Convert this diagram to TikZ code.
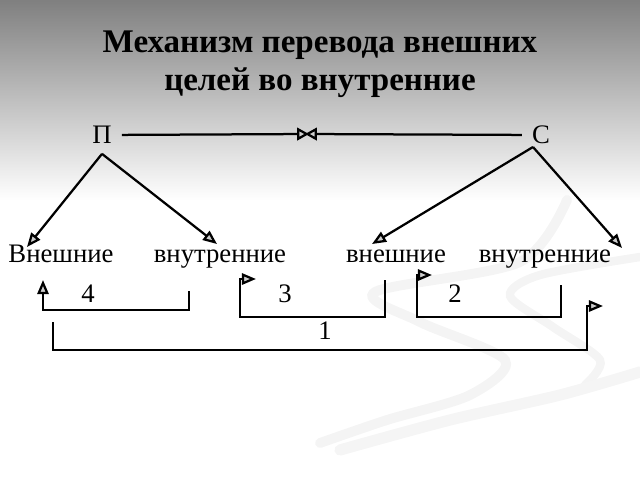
\documentclass[tikz,border=0pt]{standalone}
\usepackage{fontspec}
\setmainfont{Liberation Serif}
\usetikzlibrary{positioning,arrows.meta,calc}

\begin{document}
\begin{tikzpicture}[x=0.025cm,y=-0.025cm,>={Triangle[fill=gray!40,length=10pt,width=8pt]},
  word/.style={inner sep=0pt, anchor=base, font=\fontsize{19}{22}\selectfont},
  corner/.style={inner sep=7pt, font=\fontsize{19}{22}\selectfont},
  flow/.style={line width=1.6pt, ->},
  meet/.style={line width=1.6pt, -{Triangle[fill=gray!40,length=8.5pt,width=9pt]}}]
\useasboundingbox (0,0) rectangle (640,480);
\shade[top color=black!50, bottom color=white] (0,0) rectangle (640,200);

% swirl in the background
\draw[gray!9, line width=7pt, line cap=round] plot[smooth] coordinates {(567,200) (520,262) (375,292) (420,322) (505,360) (470,395) (387,420) (320,443)};
\draw[gray!9, line width=6pt, line cap=round] plot[smooth] coordinates {(640,257) (540,275) (510,296) (553,327) (600,360) (585,385)};
\draw[gray!8, line width=8pt, line cap=round] plot[smooth] coordinates {(340,450) (450,420) (560,395) (640,372)};

\node[align=center, font=\fontsize{23.5}{27}\selectfont\bfseries] (title) at (320,64)
  {Механизм перевода внешних\\целей во внутренние};

\node[corner] (P) at (102,135) {П};
\node[corner] (S) at (541,135) {С};
\coordinate (midl) at (309,134);
\coordinate (midr) at (305,134);

\node[word] (ext1) at (61,262) {Внешние};
\node[word] (int1) at (220,262) {внутренние};
\node[word] (ext2) at (396,262) {внешние};
\node[word] (int2) at (545,262) {внутренние};

\draw[meet] (P) -- (midl);
\draw[meet] (S) -- (midr);
\draw[flow] (P.south) -- ($(ext1.base)+(-34,-15)$);
\draw[flow] (P.south) -- ($(int1.base)+(-3,-18)$);
\draw[flow] ($(S.center)+(-8,12)$) -- ($(ext2.base)+(-24,-18)$);
\draw[flow] ($(S.center)+(-8,12)$) -- ($(int2.base)+(77,-14)$);

% return loops
\coordinate (b4a) at (189,291);
\coordinate (b4b) at (43,280);
\coordinate (b3a) at (385,280);
\coordinate (b3b) at (256,279);
\coordinate (b2a) at (561,285);
\coordinate (b2b) at (432,275);
\coordinate (b1a) at (53,322);
\coordinate (b1b) at (603,306);

\draw[flow] (b4a) -- ++(0,19) -| (b4b);
\draw[flow] (b3a) -- ++(0,37) -| ++(-145,-38) -- (b3b);
\draw[flow] (b2a) -- ++(0,32) -| ++(-144,-42) -- (b2b);
\draw[flow] (b1a) -- ++(0,28) -| ++(534,-44) -- (b1b);

\node[word] (n4) at (88,302) {4};
\node[word] (n3) at (285,302) {3};
\node[word] (n2) at (455,302) {2};
\node[word] (n1) at (325,339) {1};
\end{tikzpicture}
\end{document}
